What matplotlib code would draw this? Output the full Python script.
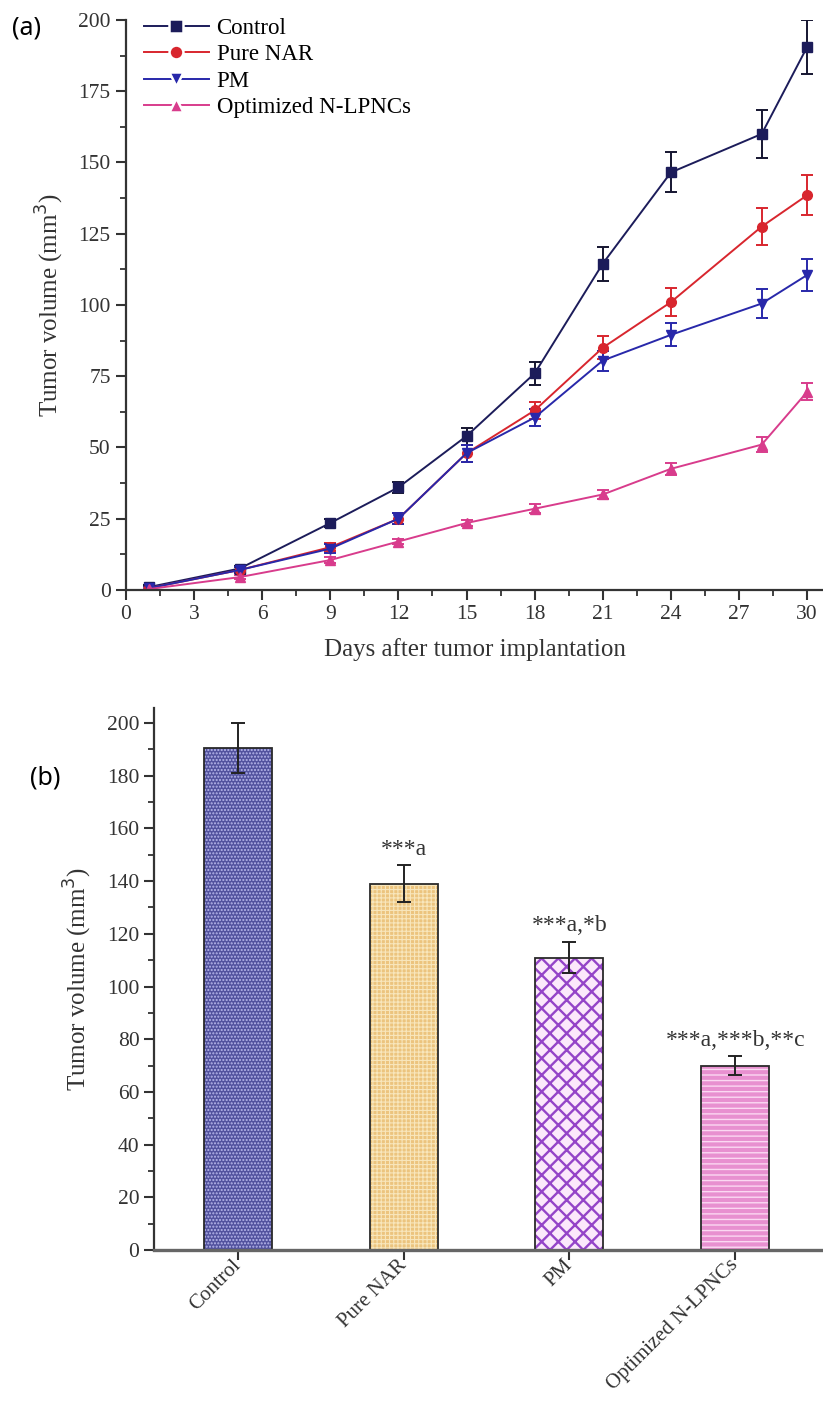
import matplotlib
matplotlib.use("Agg")
import matplotlib.pyplot as plt
import numpy as np
from matplotlib.ticker import MultipleLocator
from matplotlib.lines import Line2D

plt.rcParams['font.family'] = ['Liberation Serif', 'DejaVu Serif']

# ---- panel (a) data: tumour growth over time ----
days = [1, 5, 9, 12, 15, 18, 21, 24, 28, 30]
control = [1, 7.5, 23.5, 36, 54, 76, 114.5, 146.5, 160, 190.5]
control_err = [0.8, 1, 1.5, 2, 3, 4, 6, 7, 8.5, 9.5]
pure_nar = [0.6, 7, 15, 25, 48, 63, 85, 101, 127.5, 138.5]
pure_nar_err = [0.5, 1, 1.5, 2, 3, 3, 4, 5, 6.5, 7]
pm = [0.6, 7, 14.5, 25, 48, 60.5, 80.5, 89.5, 100.5, 110.5]
pm_err = [0.5, 1, 1.5, 2, 3, 3, 3.5, 4, 5, 5.5]
opt = [0.3, 4.5, 10.5, 17, 23.5, 28.5, 33.5, 42.5, 51, 69.5]
opt_err = [0.3, 0.7, 1, 1, 1, 1.5, 1.5, 2, 2.5, 3]

series_names = ['Control', 'Pure NAR', 'PM', 'Optimized N-LPNCs']

# ---- panel (b) data: final tumour volume ----
bar_labels = ['Control', 'Pure NAR', 'PM', 'Optimized N-LPNCs']
bar_values = [190.5, 139, 111, 70]
bar_err = [9.5, 7, 6, 3.5]
bar_notes = ['', '***a', '***a,*b', '***a,***b,**c']

fig = plt.figure(figsize=(8.23, 14.05), dpi=100)

# ================= (a) =================
ax1 = fig.add_axes([0.1531, 0.5801, 0.8469, 0.4057])
line_cols = ['#1c1c5a', '#d8262e', '#2828aa', '#d83c8c']
err_cols = ['#151530', '#d8262e', '#2828aa', '#d83c8c']
markers = ['s', 'o', 'v', '^']
ys = [control, pure_nar, pm, opt]
errs = [control_err, pure_nar_err, pm_err, opt_err]
for y, e, lc, ec, mk in zip(ys, errs, line_cols, err_cols, markers):
    ax1.errorbar(days, y, yerr=e, color=lc, ecolor=ec, marker=mk, markersize=7,
                 linewidth=1.4, elinewidth=1.4, capsize=4.5, capthick=1.4)

ax1.set_xlim(0, 30.7)
ax1.set_ylim(0, 200)
ax1.xaxis.set_major_locator(MultipleLocator(3))
ax1.xaxis.set_minor_locator(MultipleLocator(1.5))
ax1.yaxis.set_major_locator(MultipleLocator(25))
ax1.yaxis.set_minor_locator(MultipleLocator(12.5))
ax1.spines['top'].set_visible(False)
ax1.spines['right'].set_visible(False)
for s in ['left', 'bottom']:
    ax1.spines[s].set_linewidth(1.6)
    ax1.spines[s].set_color('#333333')
ax1.tick_params(which='major', direction='out', length=7, width=1.5, labelsize=15.5,
                pad=4, colors='#333333')
ax1.tick_params(which='minor', direction='out', length=4, width=1.3, colors='#333333')
ax1.set_xlabel('Days after tumor implantation', fontsize=18, labelpad=10, color='#333333')
ax1.set_ylabel('Tumor volume (mm$^3$)', fontsize=18, labelpad=9, color='#333333')

handles = [Line2D([], [], color=lc, marker=mk, markersize=10, markerfacecolor=lc,
                  markeredgecolor='white', markeredgewidth=1.8, linewidth=1.4)
           for lc, mk in zip(line_cols, markers)]
ax1.legend(handles, series_names, loc='upper left', bbox_to_anchor=(0.0, 1.035),
           frameon=False, fontsize=16.5, handlelength=2.8, labelspacing=0.22,
           handletextpad=0.35, borderaxespad=0.4)

fig.text(0.015, 0.98, '(a)', fontsize=18, family=['Noto Sans', 'DejaVu Sans'], va='center')

# ================= (b) =================
ax2 = fig.add_axes([0.1871, 0.1103, 0.8129, 0.3858])
x = np.arange(len(bar_labels))
face = ['#52529e', '#ecc47e', '#fbe8fb', '#e890d0']
hatch_col = ['#b8b8ec', '#f8e6bc', '#9444c8', '#fbd8f2']
hatches = ['.....', '++++', 'xx', '---']
hatch_lw = [1.0, 0.8, 1.7, 1.0]
w = 0.41
for xi, v, fc, hc, h, lw in zip(x, bar_values, face, hatch_col, hatches, hatch_lw):
    plt.rcParams['hatch.linewidth'] = lw
    ax2.bar(xi, v, width=w, color=fc, edgecolor=hc, hatch=h, linewidth=0)
ax2.bar(x, bar_values, width=w, fill=False, edgecolor='#2a2a2a', linewidth=1.3)
ax2.errorbar(x, bar_values, yerr=bar_err, fmt='none', ecolor='#222222',
             elinewidth=1.4, capsize=5, capthick=1.4)
for xi, v, e, t in zip(x, bar_values, bar_err, bar_notes):
    if t:
        ax2.text(xi, v + e + 2, t, ha='center', va='bottom', fontsize=17, color='#333333')

ax2.set_xlim(-0.507, 3.53)
ax2.set_ylim(0, 205.7)
ax2.yaxis.set_major_locator(MultipleLocator(20))
ax2.yaxis.set_minor_locator(MultipleLocator(10))
ax2.set_xticks(x)
ax2.set_xticklabels(bar_labels, rotation=45, ha='right', va='center',
                    rotation_mode='anchor', fontsize=15, color='#333333')
ax2.spines['top'].set_visible(False)
ax2.spines['right'].set_visible(False)
ax2.spines['left'].set_linewidth(1.6)
ax2.spines['left'].set_color('#333333')
ax2.spines['bottom'].set_linewidth(2.4)
ax2.spines['bottom'].set_color('#666666')
ax2.tick_params(axis='y', which='major', direction='out', length=7, width=1.5,
                labelsize=15.5, colors='#333333')
ax2.tick_params(axis='y', which='minor', direction='out', length=4, width=1.3, colors='#333333')
ax2.tick_params(axis='x', which='major', direction='out', length=7, width=1.5, pad=2,
                colors='#333333')
ax2.set_ylabel('Tumor volume (mm$^3$)', fontsize=18, labelpad=9, color='#333333')

fig.text(0.036, 0.446, '(b)', fontsize=18, family=['Noto Sans', 'DejaVu Sans'], va='center')

fig.savefig('out.png', dpi=100)
